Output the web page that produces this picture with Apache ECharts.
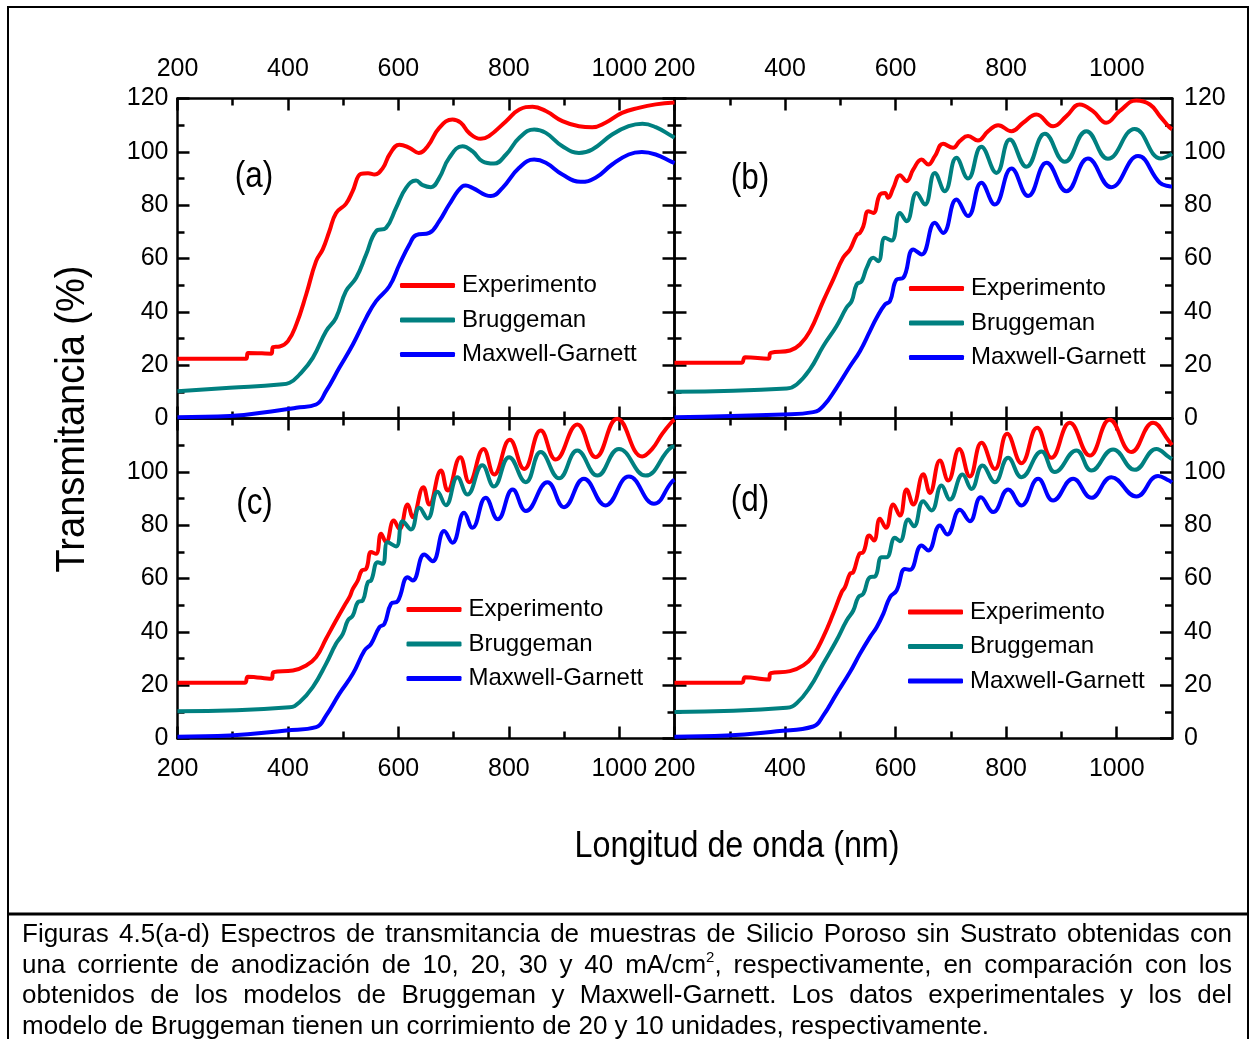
<!DOCTYPE html>
<html>
<head>
<meta charset="utf-8">
<script src="https://cdn.jsdelivr.net/npm/echarts@6/dist/echarts.min.js"></script>
<style>
html,body{margin:0;padding:0;background:#fff;}
#chart{position:absolute;left:0;top:0;width:1257px;height:1039px;}
#caption{position:absolute;left:22px;top:918px;width:1210px;font-family:'Liberation Sans',Arial,sans-serif;font-size:26px;line-height:30.5px;color:#000;}
#caption div{white-space:nowrap;}
#caption .j{text-align:justify;text-align-last:justify;white-space:normal;}
sup{font-size:15px;line-height:0;vertical-align:11px;}
</style>
</head>
<body>
<div id="chart"></div>
<div id="caption">
<div class="j">Figuras 4.5(a-d) Espectros de transmitancia de muestras de Silicio Poroso sin Sustrato obtenidas con</div>
<div class="j">una corriente de anodización de 10, 20, 30 y 40 mA/cm<sup>2</sup>, respectivamente, en comparación con los</div>
<div class="j">obtenidos de los modelos de Bruggeman y Maxwell-Garnett. Los datos experimentales y los del</div>
<div>modelo de Bruggeman tienen un corrimiento de 20 y 10 unidades, respectivamente.</div>
</div>
<script>
// ---------------- DATA ----------------
var seriesNames = ['Experimento', 'Bruggeman', 'Maxwell-Garnett'];
var panelLabels = ['(a)', '(b)', '(c)', '(d)'];
var xMajorTicks = [200, 400, 600, 800, 1000];
var xMinorTicks = [300, 500, 700, 900];
var xTitle = 'Longitud de onda (nm)';
var yTitle = 'Transmitancia (%)';

// Panel (a)
var expA = [[200,22.4],[324,22.4],[328,24.6],[370,24.3],[373,26.8],[385,27],[400,29],[415,35.2],[433,46.5],[451,59],[463,63.4],[475,70.2],[487,77],[505,80.5],[517,85.2],[532,91.7],[545,92],[557,91.5],[572,94],[584,99],[602,102.7],[620,101.5],[637,99.6],[653,102.1],[674,109],[698,112.1],[713,110.9],[728,107.1],[749,104.9],[764,105.9],[795,111.5],[819,115.9],[843,116.9],[867,115.3],[897,111.5],[927,109.6],[951,109.2],[975,110.9],[1005,114.6],[1035,116.5],[1066,117.8],[1100,118.5]];
var bruA = [[200,10.2],[295,11.5],[385,12.75],[403,13.4],[421,16.5],[445,22.75],[469,32.75],[487,37.75],[505,47.75],[523.5,52.75],[541.6,61.5],[559.6,70.25],[577.7,71.5],[595.8,79],[613.9,86.5],[631.9,89.25],[644,87.5],[659,86.75],[674,90.25],[692,97.75],[716,102.1],[734,100.25],[752,96.5],[773,95.6],[795,99],[819,105.25],[846,108.4],[867,107.1],[897,102.1],[927,99.6],[951,100.9],[987,106.5],[1017,109.6],[1042,110.5],[1066,109.25],[1095,105.9],[1100,105.3]];
var mgA = [[200,0.5],[295,0.9],[385,3.1],[415,4],[451,5.25],[469,10.25],[493,19],[517.5,27.75],[541.6,37.75],[559.6,44],[583.7,49.6],[601.8,57.75],[620,65.25],[632,68.75],[656,69.6],[674,74],[692,80.25],[716,87.1],[722,87.4],[734,86.5],[767.5,83.4],[788.6,86.5],[818.7,94],[845.8,97.1],[867,95.9],[897,91.5],[930,88.75],[957,90.25],[987,95.25],[1017,99],[1041,99.9],[1066,99],[1095,96.25],[1100,95.8]];

// Panel (b)
var expB = [[200,20.9],[321,20.9],[328,23],[370,22.4],[374,24.6],[409,25.5],[427,27.75],[445,32.75],[469,44],[487,52.1],[505,60.25],[517.5,63.4],[529.5,68.75],[535.5,69.6],[541.6,72.1],[550.6,77.75],[559.6,77.1],[571.7,84],[580.7,84.6],[586.7,82.75],[595.8,86.5],[607.8,91.25],[620,89],[632,93.4],[647,97.1],[659,95.25],[671,98.4],[686,103],[704,101.5],[716,104],[731,105.9],[749,104.25],[767.5,107.75],[785.5,110],[809.6,107.75],[830.7,110.9],[854.8,114],[884.9,109.6],[909,113.4],[933,117.75],[957,115.25],[981,110.9],[1005,115.25],[1035.5,119.25],[1060,117.75],[1078,113.4],[1095,109.25],[1100,108.5]];
var bruB = [[200,10],[403,11.25],[421,12.75],[445,18.4],[469,27.1],[493,34.6],[511,41.5],[520.5,44],[529.5,50.25],[538.6,51.5],[547.6,56.5],[559.6,60.25],[568.7,59],[580.7,67.75],[592.8,66.75],[607.8,77.1],[620,74],[638,84.6],[653,80.25],[671,92.1],[689,85.25],[710,97.75],[731,90],[755,101.9],[782.5,92.1],[806.6,104.6],[836.7,94.4],[870,106.75],[906,96.25],[945,107.75],[984,97.4],[1032.5,108.6],[1080,97.5],[1100,99.3]];
var mgB = [[200,0.5],[397,1.5],[451,2.4],[469,4.6],[493,11.5],[517.5,19.6],[535.5,25.25],[553.6,32.75],[565.7,37.75],[580.7,42.75],[589.8,44],[601.8,52.1],[613.9,52.75],[632,63.4],[647,61.5],[671,73.4],[686,69.6],[710,82.1],[731,75.9],[755,88.4],[779.5,80.25],[809.6,93.75],[839.8,83.4],[873,95.9],[909,85.25],[948,97.5],[990,86.75],[1038.6,98.4],[1078,88.4],[1095,87.1],[1100,87]];

// Panel (c)
var expC = [[200,20.9],[321.7,20.9],[327.7,23.2],[370,22.4],[374,24.9],[409,25.5],[433,27.4],[451,30.5],[469,37.4],[487,44.25],[502.4,49.9],[511.4,53],[517.5,56.1],[526.5,59.25],[533.7,63],[541.6,63.6],[550.6,69.9],[559.6,69.25],[568.7,76.75],[577.7,73.6],[591.6,81.75],[601.8,78.6],[616.9,87.75],[625.9,83],[645.2,94.25],[656,87.75],[677.1,100.5],[689.2,93],[712,105.5],[728.3,96.1],[754.2,108.6],[773.5,99],[801.8,112],[827.7,101.1],[857.8,115.5],[884.9,104.6],[924.1,117.75],[957.2,105.5],[996.4,119.9],[1041.6,105.75],[1059.6,108.6],[1077.7,114.25],[1094.6,118.6],[1100,119.5]];
var bruC = [[200,10.2],[403,11.75],[421,13.6],[445,19.25],[469,28],[487,35.5],[499.4,39.25],[508.4,44.25],[517.5,46.1],[526.5,51.1],[535.5,51.75],[544.6,58.6],[550.6,59.25],[562.6,66.1],[571.7,65.5],[580.7,73.6],[595.8,72],[607.8,81.5],[622.9,78.4],[638,86.5],[653,82.5],[671,92.5],[686,87.5],[707,98],[725,91.5],[752,102.5],[773,94.5],[800.5,105.5],[830.7,96.1],[857.8,107.4],[891,97.6],[924,108],[960.3,98.6],[999.4,108.6],[1047.6,98.6],[1094.6,109.25],[1100,109.5]];
var mgC = [[200,0.7],[295,1.1],[397,3],[451,4.25],[469,8.6],[493,16.75],[517.5,24.25],[538.6,33],[550.6,35.5],[565.7,41.75],[574.7,43],[586.7,50.5],[598.8,51.5],[616.9,60.5],[625.9,59.25],[647,69],[662,66.5],[683,77.8],[698,73.4],[719,84.65],[734,79],[758,90.3],[780,82.2],[807,93.4],[831,85.3],[870,96.1],[900,86.75],[936,97.4],[975,87.4],[1017.5,98.25],[1062.7,88],[1094.6,96.1],[1100,97]];

// Panel (d)
var expD = [[200,20.9],[321.7,20.9],[327.7,23],[370,22.1],[374,24.5],[409,25.25],[433,27.4],[451,31.1],[469,38],[487,46.75],[502.4,54.9],[508.4,56.75],[517.5,61.75],[523.5,62.4],[534.3,69.25],[541.6,69.9],[552.4,76.1],[560.8,74.25],[571.7,82.4],[582.5,79],[595.8,87.75],[607.8,83.6],[619.9,93.4],[631.9,87.75],[650,99.1],[662,92.1],[680.1,104.25],[695.2,96.75],[715.1,108.6],[734.3,98.25],[755.4,110.9],[779.5,101.1],[801.8,114.25],[827.7,103.25],[856,116.5],[881.9,105.25],[915.1,118.4],[951.2,106.1],[987.3,119.5],[1026.5,107.4],[1065.7,118.4],[1094.6,111.5],[1100,110]];
var bruD = [[200,9.9],[403,11.5],[421,13.25],[445,19.25],[469,28],[493,36.75],[511.4,44.25],[523.5,48],[532.5,53],[541.6,54.25],[553.6,60.5],[562.7,60.75],[574.7,68],[583.7,68],[598.8,75.25],[607.8,74],[622.9,82.1],[633.1,79.6],[650,89],[665,85.5],[683.1,94.9],[698.2,89.6],[721.1,99],[737.3,93.6],[757.2,102.4],[779.5,96.1],[803.6,105.25],[827.7,98],[863.9,107.6],[888,99.9],[927.1,108],[954.2,100.5],[993.4,108.4],[1032.5,100.75],[1071.7,108.6],[1094.6,105.5],[1100,104.8]];
var mgD = [[200,0.7],[294.6,1.1],[385,2.75],[451,4.5],[469,8.6],[493,16.75],[517.5,24.9],[535.5,31.75],[553.6,38],[565.7,41.75],[577.7,46.75],[589.8,53],[601.8,55.5],[616.9,63.6],[625.9,63.25],[647,72.4],[659,70.5],[680.1,79.9],[693.4,76.5],[716.3,85.75],[734.3,81.5],[754.2,90.5],[776.5,84.9],[803.6,93.4],[827.7,87.4],[857.8,97.4],[884.9,89.25],[921.1,97.4],[954.2,90.25],[990.4,98],[1035.5,90.75],[1074.7,98.4],[1094.6,96.75],[1100,96]];

var panelData = [[expA, bruA, mgA], [expB, bruB, mgB], [expC, bruC, mgC], [expD, bruD, mgD]];

// ---------------- LAYOUT / STYLE ----------------
var FONT = "'Liberation Sans', Arial, sans-serif";
var colors = ['#FF0000', '#008080', '#0000FF'];
var grids = [
  {left: 177.5, top: 98.5, width: 497, height: 320},
  {left: 674.5, top: 98.5, width: 497.5, height: 320},
  {left: 177.5, top: 418.5, width: 497, height: 320},
  {left: 674.5, top: 418.5, width: 497.5, height: 320}
];
var legendPos = [
  {left: 400, top: 272.5},
  {left: 909, top: 275.5},
  {left: 406.5, top: 596.5},
  {left: 908, top: 599}
];
var labelPos = [[254, 177], [750, 179], [254.5, 503.5], [750, 500.5]];

var axisLineStyle = {color: '#000', width: 2.5};
var labelStyle = {color: '#000', fontSize: 25, fontFamily: FONT, formatter: function (v) { return String(v); }};

var xAxes = [], yAxes = [], series = [], legends = [], graphics = [];
grids.forEach(function (g, i) {
  var upper = i < 2, leftPanel = (i % 2 === 0);
  ['bottom', 'top'].forEach(function (pos) {
    var showLab = (pos === 'top' && upper) || (pos === 'bottom' && !upper);
    xAxes.push({
      gridIndex: i, type: 'value', position: pos, min: 200, max: 1100,
      axisLine: {show: true, onZero: false, lineStyle: axisLineStyle},
      axisTick: {show: true, inside: true, length: 12, lineStyle: {width: 2.5, color: '#000'}, customValues: xMajorTicks},
      axisLabel: Object.assign({show: showLab, margin: pos === 'top' ? 17 : 18, customValues: xMajorTicks}, labelStyle),
      splitLine: {show: false}
    });
    xAxes.push({
      gridIndex: i, type: 'value', position: pos, min: 200, max: 1100,
      axisLine: {show: false, onZero: false},
      axisTick: {show: true, inside: true, length: 7, lineStyle: {width: 2.5, color: '#000'}, customValues: xMinorTicks},
      axisLabel: {show: false},
      splitLine: {show: false}
    });
  });
  ['left', 'right'].forEach(function (pos) {
    var showLab = (pos === 'left' && leftPanel) || (pos === 'right' && !leftPanel);
    yAxes.push({
      gridIndex: i, type: 'value', position: pos, min: 0, max: 120, interval: 20,
      axisLine: {show: true, onZero: false, lineStyle: axisLineStyle},
      axisTick: {show: true, inside: true, length: 12, lineStyle: {width: 2.5, color: '#000'}},
      minorTick: {show: true, splitNumber: 2, length: 7, lineStyle: {width: 2.5, color: '#000'}},
      axisLabel: Object.assign({show: showLab, margin: pos === 'left' ? 9 : 12, showMaxLabel: upper}, labelStyle),
      splitLine: {show: false}, minorSplitLine: {show: false}
    });
  });
  panelData[i].forEach(function (d, k) {
    series.push({
      type: 'line', name: seriesNames[k], xAxisIndex: i * 4, yAxisIndex: i * 2,
      data: d, showSymbol: false, symbol: 'none', smooth: 0.45,
      lineStyle: {color: colors[k], width: 4}, itemStyle: {color: colors[k]},
      emphasis: {disabled: true}, animation: false
    });
  });
  legends.push({
    data: seriesNames, orient: 'vertical', left: legendPos[i].left, top: legendPos[i].top,
    padding: 0, itemGap: 8.5, itemWidth: 55, itemHeight: 5, icon: 'roundRect',
    textStyle: {color: '#000', fontSize: 24, fontFamily: FONT, lineHeight: 26, padding: [0, 0, 0, 2]},
    selectedMode: false
  });
  graphics.push({
    type: 'text', x: labelPos[i][0], y: labelPos[i][1], scaleX: 0.85,
    style: {text: panelLabels[i], fill: '#000', font: '37px ' + FONT, textAlign: 'center', textVerticalAlign: 'middle'}
  });
});

// frame and axis titles
graphics.push({type: 'rect', shape: {x: 8, y: 7, width: 1240, height: 1045}, style: {fill: 'none', stroke: '#000', lineWidth: 2}, z: 100});
graphics.push({type: 'line', shape: {x1: 8, y1: 914, x2: 1248, y2: 914}, style: {stroke: '#000', lineWidth: 3}, z: 100});
graphics.push({type: 'text', x: 737, y: 847, scaleX: 0.873,
  style: {text: xTitle, fill: '#000', font: '37px ' + FONT, textAlign: 'center', textVerticalAlign: 'middle'}});
graphics.push({type: 'text', x: 73, y: 419, rotation: Math.PI / 2, scaleX: 0.95,
  style: {text: yTitle, fill: '#000', font: '40px ' + FONT, textAlign: 'center', textVerticalAlign: 'middle'}});

var chart = echarts.init(document.getElementById('chart'), null, {renderer: 'canvas'});
chart.setOption({
  animation: false,
  backgroundColor: '#fff',
  grid: grids,
  xAxis: xAxes,
  yAxis: yAxes,
  legend: legends,
  series: series,
  graphic: graphics
});
</script>
</body>
</html>
